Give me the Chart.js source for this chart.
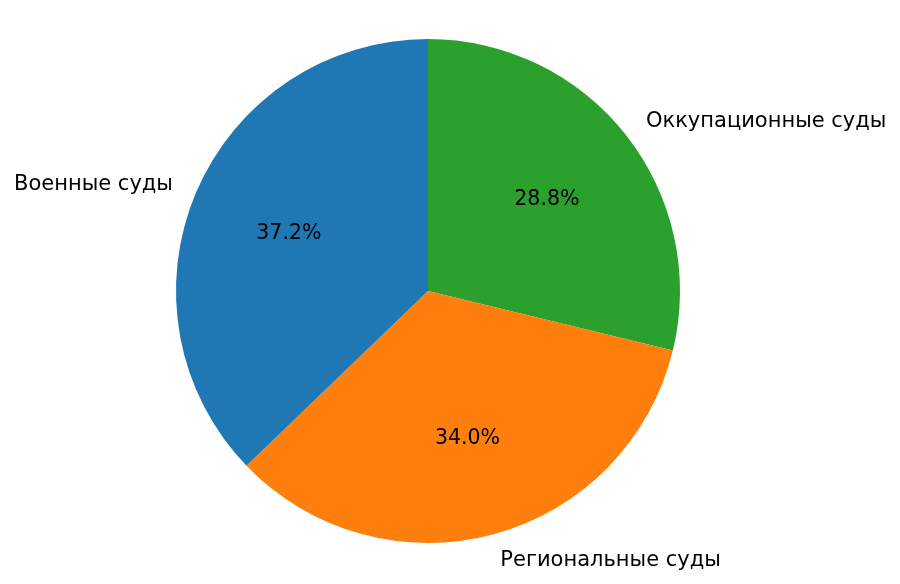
<!DOCTYPE html>
<html>
<head>
<meta charset="utf-8">
<script src="https://cdn.jsdelivr.net/npm/chart.js@4"></script>
<style>
html,body{margin:0;padding:0;background:#fff;}
#wrap{width:900px;height:584px;}
</style>
</head>
<body>
<div id="wrap"><canvas id="pie" width="900" height="584"></canvas></div>
<script>
// slices listed clockwise from 12 o'clock
const labels = ["Оккупационные суды", "Региональные суды", "Военные суды"];
const values = [28.8, 34.0, 37.2];
const colors = ["#2ca02c", "#ff7f0e", "#1f77b4"];

const pctFont = "20.5px 'DejaVu Sans'";
const labelFont = "21px 'DejaVu Sans'";

// outside labels + percent text, placed from the arc geometry
const pieText = {
id: "pieText",
afterDatasetsDraw(chart){
const ctx = chart.ctx;
const meta = chart.getDatasetMeta(0);
const total = values.reduce((a,b)=>a+b,0);
ctx.save();
ctx.fillStyle = "#000";
ctx.textBaseline = "middle";
meta.data.forEach((arc,i)=>{
const p = arc.getProps(["x","y","startAngle","endAngle","outerRadius"],true);
const mid = (p.startAngle+p.endAngle)/2;
const cx = Math.cos(mid), cy = Math.sin(mid);
// percent at 0.6 r
ctx.font = pctFont;
ctx.textAlign = "center";
ctx.fillText((values[i]/total*100).toFixed(1)+"%", p.x+cx*p.outerRadius*0.6, p.y+cy*p.outerRadius*0.6+2);
// label at 1.1 r
ctx.font = labelFont;
ctx.textAlign = cx>=0 ? "left" : "right";
ctx.fillText(labels[i], p.x+cx*p.outerRadius*1.1, p.y+cy*p.outerRadius*1.1+2);
});
ctx.restore();
}
};

new Chart(document.getElementById("pie"),{
type:"pie",
data:{
labels:labels,
datasets:[{
data:values,
backgroundColor:colors,
borderWidth:0
}]
},
options:{
responsive:false,
animation:false,
layout:{padding:{top:39,bottom:41,left:176,right:220}},
plugins:{
legend:{display:false},
tooltip:{enabled:false}
}
},
plugins:[pieText]
});
</script>
</body>
</html>
